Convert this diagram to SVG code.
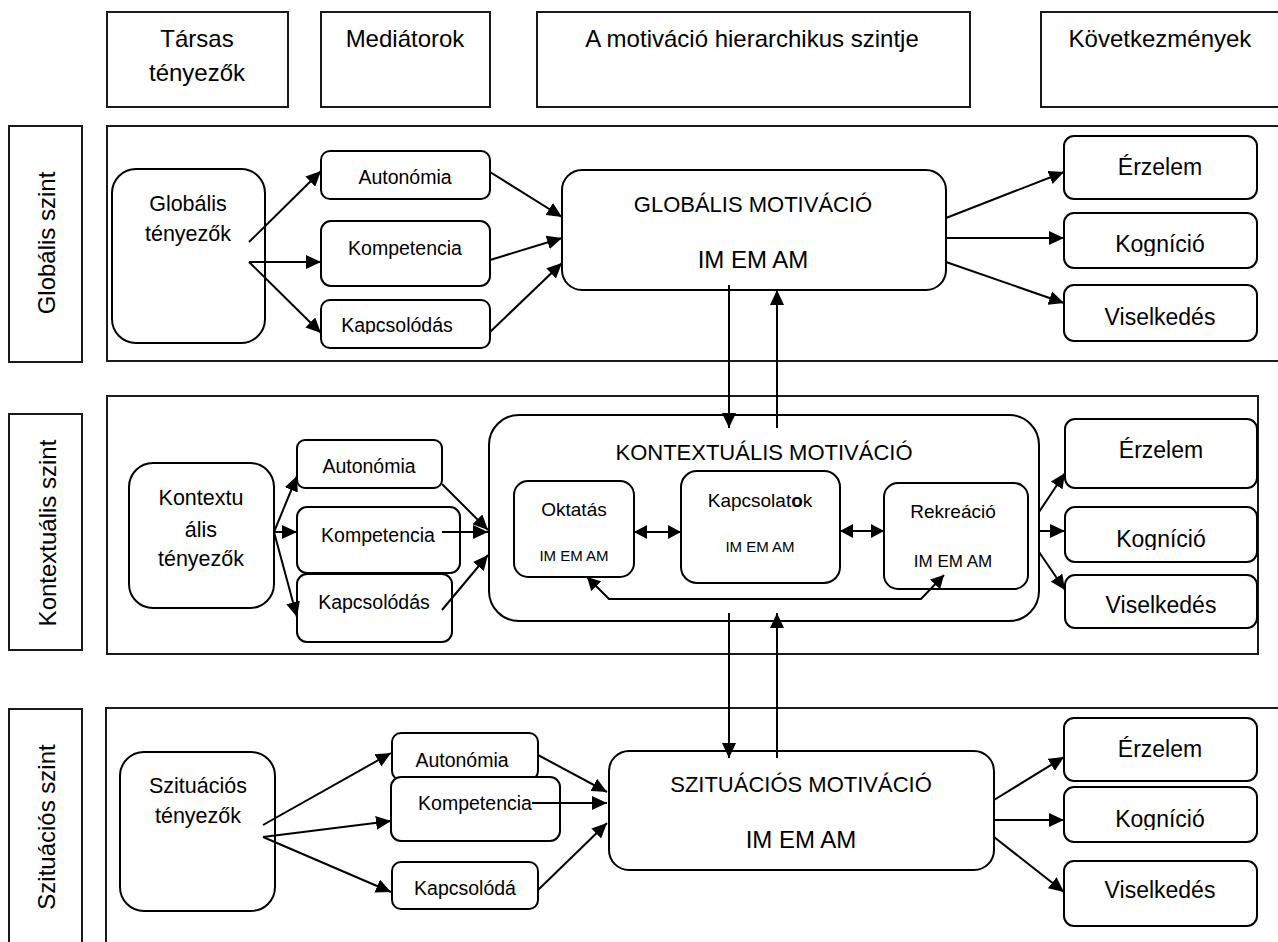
<svg xmlns="http://www.w3.org/2000/svg" width="1278" height="942" viewBox="0 0 1278 942">
<style>
text{font-family:"Liberation Sans",Arial,sans-serif;fill:#000;text-anchor:middle}
.frame{fill:#fff;stroke:#1a1a1a;stroke-width:2}
.box{fill:#fff;stroke:#000;stroke-width:2}
.hd{font-size:24px}
.lvl{font-size:24px}
.fac{font-size:21.5px}
.med{font-size:19.5px}
.ttl{font-size:22px}
.im{font-size:24px}
.con{font-size:23px}
.sub{font-size:19px}
.sim{font-size:15px}
.conn line,.conn polyline{stroke:#000;stroke-width:2;fill:none}
.a{marker-end:url(#ah)}
.d{marker-end:url(#sh);marker-start:url(#sh)}
</style>
<defs>
<marker id="ah" markerWidth="15" markerHeight="14" refX="15" refY="7" orient="auto" markerUnits="userSpaceOnUse"><path d="M0,0 L15,7 L0,14 Z" fill="#000"/></marker>
<marker id="sh" markerWidth="13" markerHeight="14" refX="13" refY="7" orient="auto-start-reverse" markerUnits="userSpaceOnUse"><path d="M0,0 L13,7 L0,14 Z" fill="#000"/></marker>
<clipPath id="c1"><rect x="321" y="300" width="169" height="34"/></clipPath>
<clipPath id="c2"><rect x="1064" y="213" width="193" height="43"/></clipPath>
<clipPath id="c3"><rect x="1065" y="507" width="192" height="43"/></clipPath>
<clipPath id="c4"><rect x="1064" y="787" width="193" height="43"/></clipPath>
</defs>
<rect width="1278" height="942" fill="#fff"/>

<g id="header">
<g id="h-tarsas"><rect class="frame" x="107" y="12" width="181" height="95"/><text class="hd" x="197" y="47">Társas</text><text class="hd" x="197" y="81">tényezők</text></g>
<g id="h-mediatorok"><rect class="frame" x="321" y="12" width="169" height="95"/><text class="hd" x="405" y="47">Mediátorok</text></g>
<g id="h-hierarchia"><rect class="frame" x="537" y="12" width="433" height="95"/><text class="hd" x="752" y="47">A motiváció hierarchikus szintje</text></g>
<g id="h-kovetkezmenyek"><rect class="frame" x="1041" y="12" width="260" height="95"/><text class="hd" x="1160" y="47">Következmények</text></g>
</g>

<g id="panels">
<g id="lvl-global"><rect class="frame" x="9" y="126" width="73" height="236"/><text class="lvl" transform="translate(55,243) rotate(-90)">Globális szint</text></g>
<rect id="panel-global" class="frame" x="107" y="126" width="1190" height="235"/>
<g id="lvl-context"><rect class="frame" x="9" y="414" width="73" height="236"/><text class="lvl" transform="translate(56,533) rotate(-90)">Kontextuális szint</text></g>
<rect id="panel-context" class="frame" x="107" y="396" width="1151" height="258"/>
<g id="lvl-situ"><rect class="frame" x="9" y="709" width="73" height="260"/><text class="lvl" transform="translate(55,827) rotate(-90)">Szituációs szint</text></g>
<rect id="panel-situ" class="frame" x="106" y="708" width="1190" height="260"/>
</g>

<!-- Global level -->
<g id="g-factors"><rect class="box" x="112" y="169" width="153" height="174" rx="24"/><text class="fac" x="188" y="211">Globális</text><text class="fac" x="188" y="241">tényezők</text></g>
<g id="g-autonomia"><rect class="box" x="321" y="151" width="169" height="48" rx="9"/><text class="med" x="405" y="184">Autonómia</text></g>
<g id="g-kompetencia"><rect class="box" x="321" y="221" width="169" height="65" rx="10"/><text class="med" x="405" y="255">Kompetencia</text></g>
<g id="g-kapcsolodas"><rect class="box" x="321" y="300" width="169" height="48" rx="9"/><text class="med" x="397" y="332" clip-path="url(#c1)">Kapcsolódás</text></g>
<g id="g-motivacio"><rect class="box" x="562" y="170" width="384" height="120" rx="20"/><text class="ttl" x="753" y="212">GLOBÁLIS MOTIVÁCIÓ</text><text class="im" x="753" y="268">IM EM AM</text></g>
<g id="g-erzelem"><rect class="box" x="1064" y="136" width="193" height="63" rx="10"/><text class="con" x="1160" y="175">Érzelem</text></g>
<g id="g-kognicio"><rect class="box" x="1064" y="213" width="193" height="55" rx="10"/><text class="con" x="1160" y="252" clip-path="url(#c2)">Kogníció</text></g>
<g id="g-viselkedes"><rect class="box" x="1064" y="285" width="193" height="56" rx="10"/><text class="con" x="1160" y="325">Viselkedés</text></g>

<!-- Contextual level -->
<g id="k-factors"><rect class="box" x="129" y="463" width="145" height="145" rx="24"/><text class="fac" x="201" y="505">Kontextu</text><text class="fac" x="201" y="537">ális</text><text class="fac" x="201" y="566">tényezők</text></g>
<g id="k-autonomia"><rect class="box" x="297" y="440" width="145" height="48" rx="8"/><text class="med" x="369" y="473">Autonómia</text></g>
<g id="k-kompetencia"><rect class="box" x="297" y="507" width="163" height="66" rx="10"/><text class="med" x="378" y="542">Kompetencia</text></g>
<g id="k-kapcsolodas"><rect class="box" x="297" y="574" width="155" height="68" rx="10"/><text class="med" x="374" y="609">Kapcsolódás</text></g>
<g id="k-motivacio"><rect class="box" x="489" y="415" width="550" height="206" rx="30"/><text class="ttl" x="764" y="460">KONTEXTUÁLIS MOTIVÁCIÓ</text></g>
<g id="k-oktatas"><rect class="box" x="514" y="481" width="120" height="96" rx="14"/><text class="sub" x="574" y="516">Oktatás</text><text class="sim" x="574" y="561">IM EM AM</text></g>
<g id="k-kapcsolatok"><rect class="box" x="681" y="471" width="159" height="112" rx="16"/><text class="sub" x="760" y="507">Kapcsolat<tspan font-weight="bold">o</tspan>k</text><text class="sim" x="760" y="552">IM EM AM</text></g>
<g id="k-rekreacio"><rect class="box" x="884" y="483" width="144" height="106" rx="14"/><text class="sub" x="953" y="518">Rekreáció</text><text class="sim" x="953" y="567" style="font-size:17px">IM EM AM</text></g>
<g id="k-erzelem"><rect class="box" x="1065" y="419" width="192" height="69" rx="10"/><text class="con" x="1161" y="458">Érzelem</text></g>
<g id="k-kognicio"><rect class="box" x="1065" y="507" width="192" height="55" rx="10"/><text class="con" x="1161" y="547" clip-path="url(#c3)">Kogníció</text></g>
<g id="k-viselkedes"><rect class="box" x="1065" y="575" width="192" height="53" rx="10"/><text class="con" x="1161" y="613">Viselkedés</text></g>

<!-- Situational level -->
<g id="s-factors"><rect class="box" x="120" y="752" width="155" height="159" rx="24"/><text class="fac" x="198" y="793">Szituációs</text><text class="fac" x="198" y="823">tényezők</text></g>
<g id="s-autonomia"><rect class="box" x="392" y="733" width="146" height="47" rx="9"/><text class="med" x="462" y="767">Autonómia</text></g>
<g id="s-kompetencia"><rect class="box" x="391" y="777" width="169" height="64" rx="10"/><text class="med" x="475" y="810">Kompetencia</text></g>
<g id="s-kapcsolodas"><rect class="box" x="392" y="862" width="146" height="47" rx="9"/><text class="med" x="465" y="895">Kapcsolódá</text></g>
<g id="s-motivacio"><rect class="box" x="609" y="751" width="385" height="119" rx="20"/><text class="ttl" x="801" y="792">SZITUÁCIÓS MOTIVÁCIÓ</text><text class="im" x="801" y="848">IM EM AM</text></g>
<g id="s-erzelem"><rect class="box" x="1064" y="718" width="193" height="63" rx="10"/><text class="con" x="1160" y="757">Érzelem</text></g>
<g id="s-kognicio"><rect class="box" x="1064" y="787" width="193" height="55" rx="10"/><text class="con" x="1160" y="827" clip-path="url(#c4)">Kogníció</text></g>
<g id="s-viselkedes"><rect class="box" x="1064" y="861" width="193" height="65" rx="10"/><text class="con" x="1160" y="898">Viselkedés</text></g>

<g id="connectors" class="conn">
<line class="a" x1="249" y1="242" x2="321" y2="171"/>
<line class="a" x1="249" y1="262" x2="321" y2="262"/>
<line class="a" x1="249" y1="262" x2="321" y2="333"/>
<line class="a" x1="490" y1="172" x2="562" y2="217"/>
<line class="a" x1="490" y1="260" x2="562" y2="238"/>
<line class="a" x1="490" y1="332" x2="562" y2="263"/>
<line class="a" x1="946" y1="218" x2="1064" y2="172"/>
<line class="a" x1="946" y1="238" x2="1064" y2="238"/>
<line class="a" x1="946" y1="262" x2="1064" y2="303"/>
<line class="a" x1="729" y1="285" x2="729" y2="428"/>
<line class="a" x1="777" y1="428" x2="777" y2="290"/>

<line class="a" x1="274" y1="532" x2="297" y2="476"/>
<line class="a" x1="274" y1="532" x2="297" y2="532"/>
<line class="a" x1="274" y1="532" x2="297" y2="617"/>
<line class="a" x1="442" y1="484" x2="488" y2="530"/>
<line class="a" x1="442" y1="532" x2="488" y2="532"/>
<line class="a" x1="442" y1="610" x2="488" y2="555"/>
<line class="d" x1="634" y1="532" x2="681" y2="532"/>
<line class="d" x1="840" y1="531" x2="884" y2="531"/>
<polyline class="d" points="587,577 609,599 921,599 944,575"/>
<line class="a" x1="1039" y1="512" x2="1065" y2="473"/>
<line class="a" x1="1039" y1="531" x2="1065" y2="531"/>
<line class="a" x1="1039" y1="552" x2="1065" y2="590"/>
<line class="a" x1="729" y1="613" x2="729" y2="758"/>
<line class="a" x1="777" y1="758" x2="777" y2="613"/>

<line class="a" x1="263" y1="825" x2="391" y2="753"/>
<line class="a" x1="263" y1="837" x2="391" y2="821"/>
<line class="a" x1="263" y1="837" x2="391" y2="892"/>
<line class="a" x1="538" y1="755" x2="607" y2="792"/>
<line class="a" x1="532" y1="803" x2="607" y2="803"/>
<line class="a" x1="538" y1="890" x2="607" y2="823"/>
<line class="a" x1="994" y1="800" x2="1064" y2="757"/>
<line class="a" x1="994" y1="820" x2="1064" y2="820"/>
<line class="a" x1="994" y1="837" x2="1064" y2="892"/>
</g>
</svg>
